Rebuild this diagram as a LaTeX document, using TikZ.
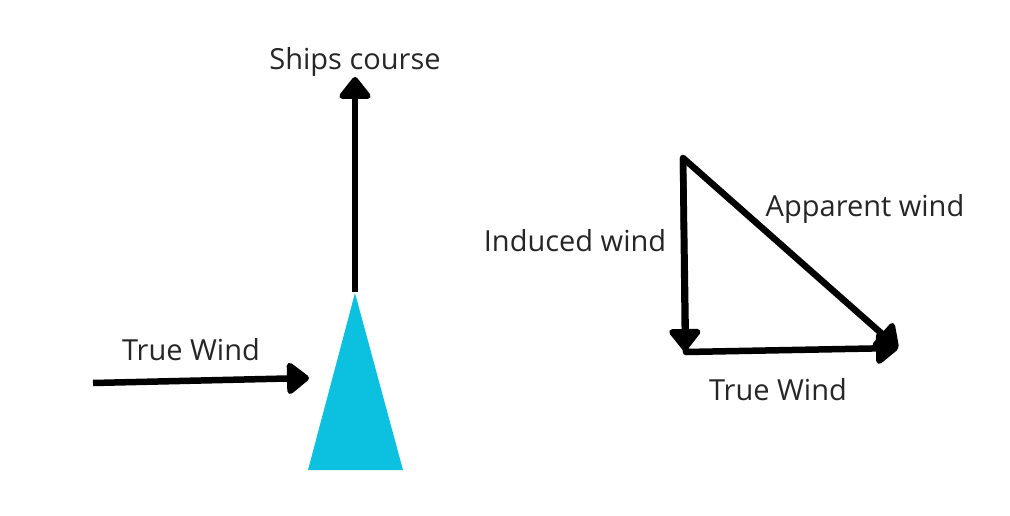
\documentclass[tikz,border=0pt]{standalone}
\usepackage{fontspec}
\setmainfont{Open Sans}
\usetikzlibrary{arrows.meta}
\definecolor{boatcyan}{HTML}{0CC0DF}
\tikzset{
  vec/.style={line width=6.5pt, -{Triangle[width=36pt,length=24pt,round]}},
  lbl/.style={font=\fontsize{29}{34}\selectfont, text=black!85, inner sep=0pt},
}
\begin{document}
\begin{tikzpicture}[x=1pt,y=-1pt]
\useasboundingbox (0,0) rectangle (1010,516);
% left part
\fill[boatcyan] (355,293) -- (403,470) -- (308,470) -- cycle;
\coordinate (bow) at (355,292);
\coordinate (course) at (355,77);
\draw[vec] (bow) -- (course);
\node[lbl] (shipslbl) at (355,62) {Ships course};
\coordinate (twstart) at (93,383);
\coordinate (twend) at (309,378);
\draw[vec] (twstart) -- (twend);
\node[lbl] (twlbl) at (191,350) {True Wind};
% triangle
\coordinate (top) at (683,158);
\coordinate (bl) at (686,352);
\coordinate (br) at (898,348);
\draw[vec] (top) -- (685,351);
\draw[line width=6.5pt, line cap=round] (top) -- (bl);
\draw[vec] (bl) -- (br);
\draw[vec] (top) -- (br);
\node[lbl] (indlbl) at (575,241) {Induced wind};
\node[lbl] (applbl) at (865,209) {Apparent wind};
\node[lbl] (tw2lbl) at (778,390) {True Wind};
\end{tikzpicture}
\end{document}
